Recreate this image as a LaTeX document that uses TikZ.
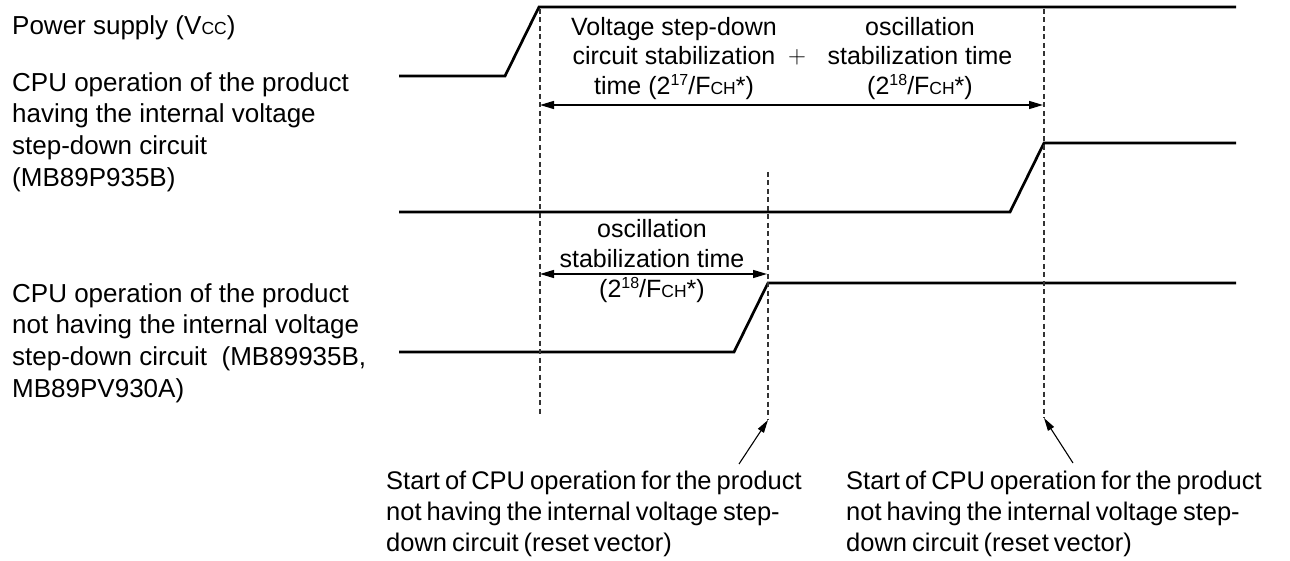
\documentclass[tikz,border=0pt]{standalone}
\usepackage{fontspec}
\setmainfont{Liberation Sans}
\usetikzlibrary{arrows.meta}
\newcommand{\smc}[1]{{\fontsize{17.5}{17.5}\selectfont #1}}
\newcommand{\sps}[1]{\raisebox{9pt}{\fontsize{16}{16}\selectfont #1}}
\newcommand{\hstr}{\rule{0pt}{20pt}}
\newcommand{\tightsp}{\spaceskip=5pt plus 1pt minus 1pt\relax}
\begin{document}
\begin{tikzpicture}[x=1pt,y=-1pt,
  sig/.style={line width=2.7pt, line join=miter},
  guide/.style={line width=1.2pt, draw=black!80, dash pattern=on 5pt off 3.5pt},
  dim/.style={line width=1.3pt, {Triangle[length=14pt,width=8pt]}-{Triangle[length=14pt,width=8pt]}},
  ptr/.style={line width=1.1pt, -{Triangle[length=13pt,width=7pt]}},
  lbl/.style={inner sep=0pt, font=\fontsize{26}{31.7}\selectfont, align=left, anchor=north west},
  btm/.style={inner sep=0pt, font=\fontsize{25.5}{31}\selectfont\tightsp, align=left, anchor=north west},
  ctr/.style={inner sep=0pt, font=\fontsize{25}{29.5}\selectfont, align=center, anchor=north},
]
\useasboundingbox (0,0) rectangle (1290,561);

% signals
\coordinate (s1a) at (399,76);  \coordinate (s1b) at (505,76);
\coordinate (s1c) at (539,7);   \coordinate (s1d) at (1236,7);
\coordinate (s2a) at (399,212); \coordinate (s2b) at (1010,212);
\coordinate (s2c) at (1044,143);\coordinate (s2d) at (1236,143);
\coordinate (s3a) at (399,352); \coordinate (s3b) at (734,352);
\coordinate (s3c) at (768,283); \coordinate (s3d) at (1236,283);
\draw[sig] (s1a) -- (s1b) -- (s1c) -- (s1d);
\draw[sig] (s2a) -- (s2b) -- (s2c) -- (s2d);
\draw[sig] (s3a) -- (s3b) -- (s3c) -- (s3d);

% guides
\coordinate (d1t) at (540,9);   \coordinate (d1b) at (540,416);
\coordinate (d2t) at (768,172); \coordinate (d2b) at (768,420);
\coordinate (d3t) at (1044,9);  \coordinate (d3b) at (1044,418);
\draw[guide] (d1t) -- (d1b);
\draw[guide] (d2t) -- (d2b);
\draw[guide] (d3t) -- (d3b);

% dimension arrows
\coordinate (a1l) at (540,105); \coordinate (a1r) at (1043,105);
\coordinate (a2l) at (540,274); \coordinate (a2r) at (767,274);
\draw[dim] (a1l) -- (a1r);
\draw[dim] (a2l) -- (a2r);

% left labels
\node[lbl] (vcc) at (12,14) {\hstr Power supply (V\smc{CC})};
\node[lbl] (cpu1) at (12,71) {\hstr CPU operation of the product\\having the internal voltage\\step-down circuit\\(MB89P935B)};
\node[lbl] (cpu2) at (12,282) {\hstr CPU operation of the product\\not having the internal voltage\\step-down circuit~ (MB89935B,\\MB89PV930A)};

% timing labels
\node[ctr] (t1) at (674,15) {\hstr Voltage step-down\\circuit stabilization\\time (2\sps{17}/F\smc{CH}*)};
\node[inner sep=0pt, font=\fontsize{26}{26}\selectfont] (plus) at (797,57) {$+$};
\node[ctr] (t2) at (920,15) {\hstr oscillation\\stabilization time\\(2\sps{18}/F\smc{CH}*)};
\node[ctr, font=\fontsize{25}{30}\selectfont] (t3) at (652,217) {\hstr oscillation\\stabilization time\\(2\sps{18}/F\smc{CH}*)};

% bottom notes
\node[btm] (n1) at (386,469) {\hstr Start of CPU operation for the product\\not having the internal voltage step-\\down circuit (reset vector)};
\node[btm] (n2) at (846,469) {\hstr Start of CPU operation for the product\\not having the internal voltage step-\\down circuit (reset vector)};
\coordinate (p1) at (739,464);
\coordinate (p2) at (1073,463);
\draw[ptr] (p1) -- (d2b);
\draw[ptr] (p2) -- (d3b);
\end{tikzpicture}
\end{document}
